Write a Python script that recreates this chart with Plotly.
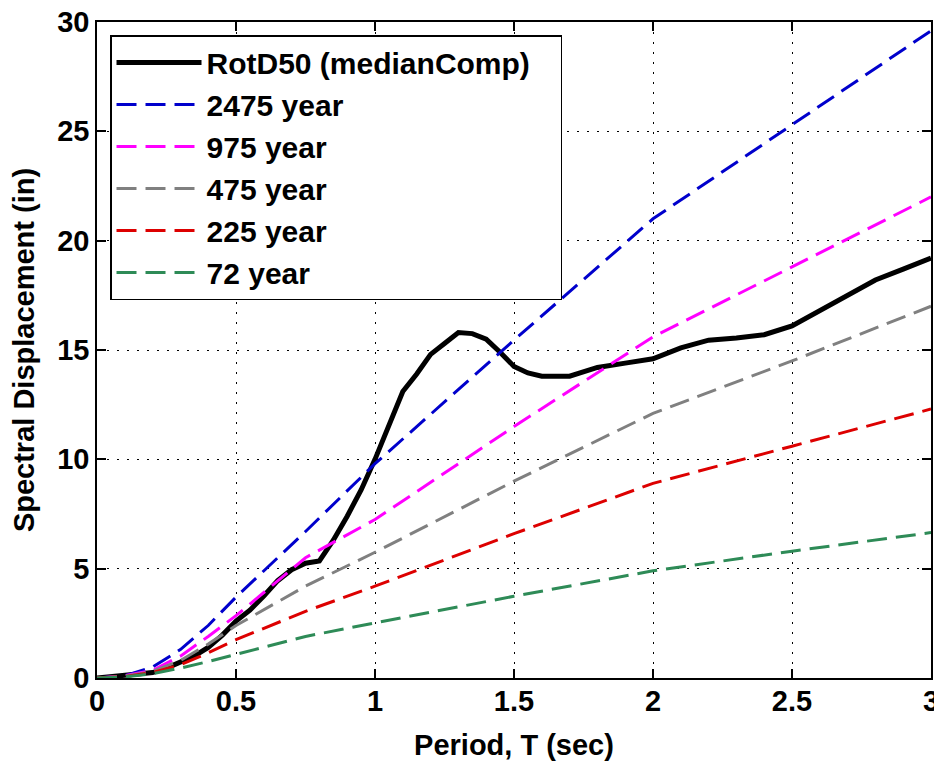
import plotly.graph_objects as go

# hazard spectra (Sd in inches) read at the listed periods
period_hz = [0, 0.1, 0.2, 0.3, 0.4, 0.5, 0.75, 1.0, 1.5, 2.0, 2.5, 3.0]
sd_2475 = [0, 0.1, 0.5, 1.3, 2.4, 3.7, 6.7, 9.8, 15.45, 21.0, 25.3, 29.6]
sd_975 = [0, 0.1, 0.35, 1.0, 1.9, 2.85, 5.5, 7.25, 11.5, 15.6, 18.8, 22.0]
sd_475 = [0, 0.08, 0.3, 0.8, 1.55, 2.4, 4.2, 5.75, 9.0, 12.1, 14.5, 17.0]
sd_225 = [0, 0.06, 0.25, 0.6, 1.15, 1.75, 3.05, 4.2, 6.6, 8.9, 10.6, 12.3]
sd_72 = [0, 0.05, 0.2, 0.45, 0.75, 1.07, 1.9, 2.52, 3.74, 4.9, 5.8, 6.65]

# RotD50 of the record
period_rec = [0, 0.05, 0.1, 0.15, 0.2, 0.25, 0.3, 0.35, 0.4, 0.45, 0.5, 0.55, 0.6, 0.65,
              0.7, 0.75, 0.8, 0.85, 0.9, 0.95, 1.0, 1.05, 1.1, 1.15, 1.2, 1.25, 1.3, 1.35,
              1.4, 1.45, 1.5, 1.55, 1.6, 1.7, 1.8, 1.9, 2.0, 2.1, 2.2, 2.3, 2.4, 2.5, 2.6,
              2.7, 2.8, 2.9, 3.0]
sd_rotd50 = [0, 0.05, 0.1, 0.15, 0.25, 0.45, 0.7, 1.0, 1.4, 1.95, 2.6, 3.1, 3.75, 4.45,
             4.95, 5.25, 5.35, 6.3, 7.4, 8.6, 10.0, 11.6, 13.1, 13.9, 14.8, 15.3, 15.8, 15.75,
             15.5, 14.9, 14.25, 13.95, 13.8, 13.8, 14.2, 14.4, 14.6, 15.1, 15.45, 15.55, 15.7,
             16.1, 16.8, 17.5, 18.2, 18.7, 19.2]

hazard = [('2475 year', sd_2475, '#0000CC'),
          ('975 year', sd_975, '#FF00FF'),
          ('475 year', sd_475, '#808080'),
          ('225 year', sd_225, '#DD0000'),
          ('72 year', sd_72, '#2E8B57')]

fig = go.Figure()
# trailing nbsp (+ zero width char so they are not trimmed) widens the legend box
fig.add_trace(go.Scatter(x=period_rec, y=sd_rotd50, mode='lines',
                         name='RotD50 (medianComp)\u00a0\u00a0\u00a0\u200b',
                         line=dict(color='black', width=5)))
for name, vals, col in hazard:
    fig.add_trace(go.Scatter(x=period_hz, y=vals, mode='lines', name=name,
                             line=dict(color=col, width=3, dash='20px,9px')))

fnt = 'Liberation Sans, Arial'
axis_style = dict(showline=True, linecolor='black', linewidth=1.5, mirror='ticks',
                  ticks='inside', ticklen=9, tickcolor='black', tickwidth=1.5,
                  showgrid=True, gridcolor='black', gridwidth=1, griddash='2px,8px',
                  zeroline=False, automargin=False, ticklabeloverflow='allow',
                  tickfont=dict(family=fnt, size=29, color='black', weight='bold'))

fig.update_xaxes(range=[0, 3], dtick=0.5, ticklabelstandoff=-4,
                 title=dict(text='Period, T (sec)', standoff=19,
                            font=dict(family=fnt, size=29, weight='bold')),
                 **axis_style)
fig.update_yaxes(range=[0, 30], dtick=5,
                 title=dict(text='Spectral Displacement (in)', standoff=19,
                            font=dict(family=fnt, size=29, weight='bold')),
                 **axis_style)

# page body has an 8px margin, so the figure is a bit smaller than the window
fig.update_layout(
    width=934, height=755,
    margin=dict(l=89, r=11, t=14, b=85),
    plot_bgcolor='white', paper_bgcolor='white',
    font=dict(family=fnt, color='black', weight='bold'),
    legend=dict(x=0.0156, y=0.98, xanchor='left', yanchor='top',
                bgcolor='white', bordercolor='black', borderwidth=1.5,
                font=dict(family=fnt, size=30, weight='bold'), itemwidth=85,
                tracegroupgap=0),
)

fig.write_html("out.html")
